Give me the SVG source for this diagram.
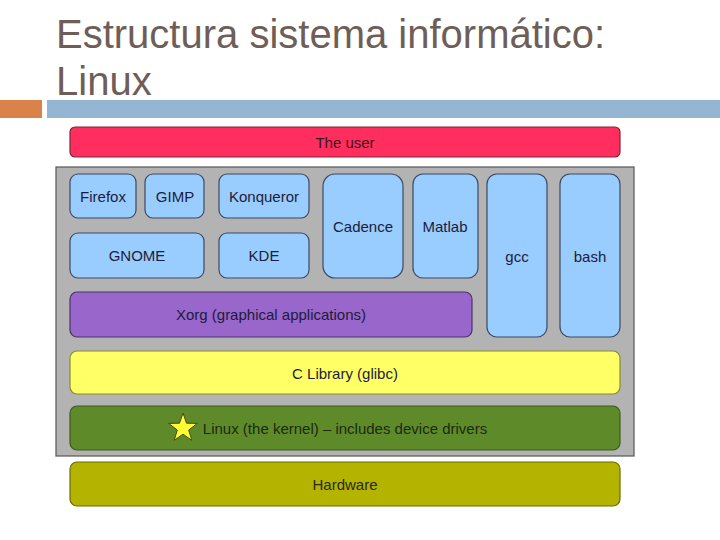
<svg xmlns="http://www.w3.org/2000/svg" width="720" height="540" viewBox="0 0 720 540">
<style>
.title{font-family:"Liberation Sans",Arial,sans-serif;font-size:40px;fill:#6E5E57}
.lbl{font-family:"Liberation Sans",Arial,sans-serif;font-size:15px;fill:#1C1C3A;text-anchor:middle;dominant-baseline:central}
.app{fill:#99CCFF;stroke:#3C4A60;stroke-width:1.2}
</style>
<rect width="720" height="540" fill="#FFFFFF"/>
<text class="title" x="56" y="48">Estructura sistema informático:</text>
<text class="title" x="56" y="95">Linux</text>
<rect x="0" y="100" width="42" height="18" fill="#D9834A"/>
<rect x="47" y="100" width="673" height="18" fill="#94B6D2"/>

<g id="user"><rect x="70" y="127" width="550" height="30" rx="5" fill="#FF2E5E" stroke="#7A2838" stroke-width="1.2"/><text class="lbl" x="345" y="142" style="fill:#3A1420">The user</text></g>

<g id="panel"><rect x="56" y="167" width="578" height="289" fill="#B3B3B3" stroke="#555555" stroke-width="1.2"/></g>

<g id="firefox"><rect class="app" x="70" y="174" width="66" height="44" rx="8"/><text class="lbl" x="103" y="196">Firefox</text></g>
<g id="gimp"><rect class="app" x="145" y="174" width="59" height="44" rx="8"/><text class="lbl" x="175" y="196">GIMP</text></g>
<g id="konqueror"><rect class="app" x="219" y="174" width="90" height="44" rx="8"/><text class="lbl" x="264" y="196">Konqueror</text></g>
<g id="gnome"><rect class="app" x="70" y="233" width="134" height="45" rx="8"/><text class="lbl" x="137" y="255">GNOME</text></g>
<g id="kde"><rect class="app" x="219" y="233" width="90" height="45" rx="8"/><text class="lbl" x="264" y="255">KDE</text></g>
<g id="cadence"><rect class="app" x="323" y="174" width="80" height="104" rx="12"/><text class="lbl" x="363" y="226">Cadence</text></g>
<g id="matlab"><rect class="app" x="413" y="174" width="65" height="104" rx="10"/><text class="lbl" x="445" y="226">Matlab</text></g>
<g id="gcc"><rect class="app" x="487" y="174" width="60" height="163" rx="10"/><text class="lbl" x="517" y="256">gcc</text></g>
<g id="bash"><rect class="app" x="560" y="174" width="60" height="163" rx="10"/><text class="lbl" x="590" y="256">bash</text></g>

<g id="xorg"><rect x="70" y="292" width="402" height="45" rx="7" fill="#9966CC" stroke="#4A3366" stroke-width="1.2"/><text class="lbl" x="271" y="314">Xorg (graphical applications)</text></g>
<g id="clib"><rect x="70" y="351" width="550" height="43" rx="7" fill="#FFFF66" stroke="#8A8A30" stroke-width="1.2"/><text class="lbl" x="345" y="373">C Library (glibc)</text></g>
<g id="kernel"><rect x="70" y="406" width="550" height="44" rx="7" fill="#5E8A2A" stroke="#3F5A20" stroke-width="1.2"/>
<polygon points="183,413 186.5,423.2 197.3,423.4 188.7,430 191.8,440.3 183,434.2 174.2,440.3 177.3,430 168.7,423.4 179.5,423.2" fill="#FFFF33" stroke="#4A4A10" stroke-width="1"/>
<text class="lbl" x="345" y="428" style="fill:#1A2A10">Linux (the kernel) – includes device drivers</text></g>
<g id="hardware"><rect x="70" y="462" width="550" height="44" rx="7" fill="#B3B300" stroke="#6B6B00" stroke-width="1.2"/><text class="lbl" x="345" y="484" style="fill:#2A2A10">Hardware</text></g>
<g id="connectors"></g>
</svg>
